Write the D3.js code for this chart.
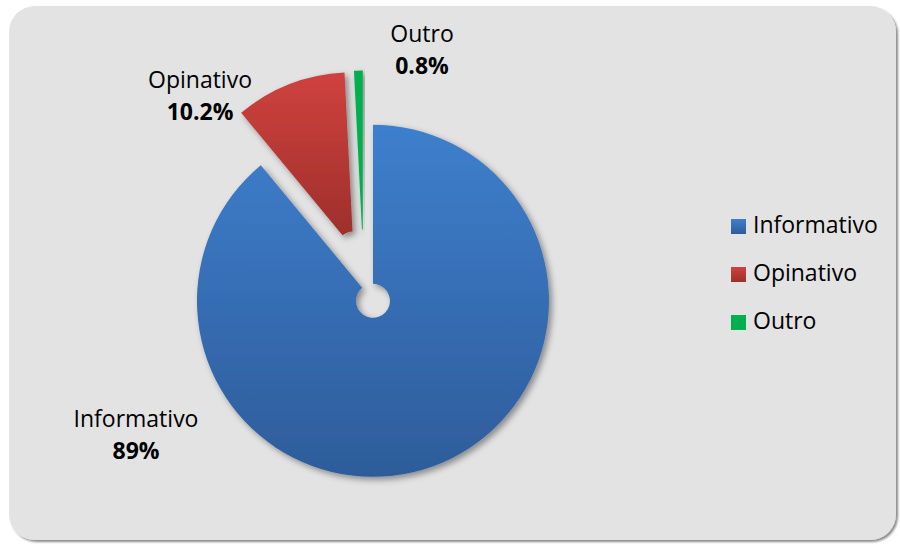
<!DOCTYPE html>
<html>
<head>
<meta charset="utf-8">
<script src="https://cdn.jsdelivr.net/npm/d3@7"></script>
<style>
  body { margin: 0; background: #fff; }
  svg { display: block; font-family: "Open Sans", sans-serif; }
</style>
</head>
<body>
<svg width="900" height="545"></svg>
<script>
// data
const categories = ["Informativo", "Opinativo", "Outro"]
const values = [89, 10.2, 0.8]
const valueLabels = ["89%", "10.2%", "0.8%"]

// styles (top / bottom of each gradient)
const colorsTop = ["#3e7fcd", "#cf423e", "#00b050"]
const colorsBottom = ["#2e5c9a", "#9e2f2b", "#00b050"]
// where excel put the data labels (center of label block)
const labelPos = [[136, 427], [200, 88], [422, 42]]

const width = 900
const height = 545
const cx = 363.5, cy = 274.5
const outerR = 176, innerR = 17
const explode = 28

const svg = d3.select("svg")
const defs = svg.append("defs")

const bgShadow = defs.append("filter").attr("id", "bgshadow")
    .attr("x", "-5%").attr("y", "-5%").attr("width", "110%").attr("height", "110%")
bgShadow.append("feDropShadow")
    .attr("dx", 2).attr("dy", 2).attr("stdDeviation", 1.2)
    .attr("flood-color", "#000").attr("flood-opacity", 0.45)

const shadow = defs.append("filter").attr("id", "shadow")
    .attr("x", "-20%").attr("y", "-20%").attr("width", "140%").attr("height", "140%")
shadow.append("feDropShadow")
    .attr("dx", 3).attr("dy", 3).attr("stdDeviation", 3)
    .attr("flood-color", "#000").attr("flood-opacity", 0.4)

categories.forEach((c, i) => {
    const g = defs.append("linearGradient").attr("id", "grad" + i)
        .attr("x1", 0).attr("y1", 0).attr("x2", 0).attr("y2", 1)
    g.append("stop").attr("offset", "0%").attr("stop-color", colorsTop[i])
    g.append("stop").attr("offset", "100%").attr("stop-color", colorsBottom[i])
})

// chart area
svg.append("rect")
    .attr("x", 9).attr("y", 6)
    .attr("width", 887).attr("height", 534)
    .attr("rx", 26).attr("ry", 26)
    .style("fill", "#e3e3e3")
    .attr("filter", "url(#bgshadow)")

const pie = d3.pie().sort(null).value(d => d)
const arcs = pie(values)
const arc = d3.arc().innerRadius(innerR).outerRadius(outerR)

svg.append("g")
    .attr("transform", `translate(${cx} ${cy})`)
    .selectAll("path")
    .data(arcs)
    .join("path")
    .attr("d", arc)
    .attr("transform", d => {
        const mid = (d.startAngle + d.endAngle) / 2
        return `translate(${explode * Math.sin(mid)} ${-explode * Math.cos(mid)})`
    })
    .style("fill", (d, i) => `url(#grad${i})`)
    .attr("filter", "url(#shadow)")

// data labels
const labels = svg.append("g")
    .selectAll("g")
    .data(categories)
    .join("g")
    .attr("transform", (d, i) => `translate(${labelPos[i][0]} ${labelPos[i][1]})`)

labels.append("text")
    .attr("text-anchor", "middle")
    .style("font-size", "23px")
    .style("fill", "#000")
    .text(d => d)

labels.append("text")
    .attr("text-anchor", "middle")
    .attr("y", 32)
    .style("font-size", "23px")
    .style("font-weight", "bold")
    .style("fill", "#000")
    .text((d, i) => valueLabels[i])

// legend
const legend = svg.append("g")
    .attr("transform", "translate(731 219)")
    .selectAll("g")
    .data(categories)
    .join("g")
    .attr("transform", (d, i) => `translate(0 ${i * 48})`)

legend.append("rect")
    .attr("width", 15).attr("height", 15)
    .style("fill", (d, i) => `url(#grad${i})`)

legend.append("text")
    .attr("x", 22).attr("y", 14)
    .style("font-size", "23px")
    .style("fill", "#000")
    .text(d => d)
</script>
</body>
</html>
